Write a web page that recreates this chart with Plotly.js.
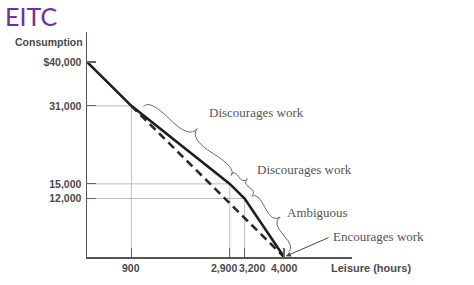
<!DOCTYPE html>
<html>
<head>
<meta charset="utf-8">
<script src="https://cdn.plot.ly/plotly-3.0.1.min.js"></script>
<style>html,body{margin:0;padding:0;background:#fff;}#chart{width:474px;height:285px;}</style>
</head>
<body>
<div id="chart"></div>
<script>
// ---- data ----
const leisureWithEITC = [0, 900, 2900, 3200, 4000];
const consumptionWithEITC = [40000, 31000, 15000, 12000, 0];
const leisureNoEITC = [900, 4000];
const consumptionNoEITC = [31000, 0];
const xTickVals = [900, 2900, 3200, 4000];
const xTickText = ['900', '2,900', '3,200', '4,000'];
const yTickVals = [12000, 15000, 31000, 40000];
const yTickText = ['12,000', '15,000', '31,000', '$40,000'];
const regionLabels = ['Discourages work', 'Discourages work', 'Ambiguous', 'Encourages work'];
const chartTitle = 'EITC';
const yTitle = 'Consumption';
const xTitle = 'Leisure (hours)';

// ---- geometry ----
const W = 474, H = 285;
const M = {l: 87, r: 122, t: 32, b: 28};
const PW = W - M.l - M.r, PH = H - M.t - M.b;
const XMAX = 5380, YMAX = 46150;
const toPx = (x, y) => [M.l + x / XMAX * PW, M.t + PH - y / YMAX * PH];
const toPaper = (p) => [(p[0] - M.l) / PW, (M.t + PH - p[1]) / PH];

const sansBold = {family: 'Liberation Sans, Arial, sans-serif', size: 10.5, color: '#4a4a4a', weight: 'bold'};
const serif = {family: 'Liberation Serif, Times New Roman, serif', size: 13, color: '#555'};

const traces = [];
// reference (guide) lines from the kink points
for (let i = 1; i <= 3; i++) {
  const x = leisureWithEITC[i], y = consumptionWithEITC[i];
  traces.push({x: [0, x], y: [y, y], mode: 'lines', line: {color: '#bdbdbd', width: 1}, hoverinfo: 'skip'});
  traces.push({x: [x, x], y: [0, y], mode: 'lines', line: {color: '#bdbdbd', width: 1}, hoverinfo: 'skip'});
}
traces.push({x: leisureNoEITC, y: consumptionNoEITC, mode: 'lines',
  line: {color: '#2a2a2a', width: 2.6, dash: '8px,5px'}});
traces.push({x: leisureWithEITC, y: consumptionWithEITC, mode: 'lines',
  line: {color: '#1e1e1e', width: 2.6}});

// ---- braces ----
function bracePath(p1, p2, s0, s1, gap, w) {
  const dx = p2[0] - p1[0], dy = p2[1] - p1[1], len = Math.hypot(dx, dy);
  const u = [dx / len, dy / len], n = [u[1], -u[0]];
  const A = [p1[0] + u[0] * s0 + n[0] * gap, p1[1] + u[1] * s0 + n[1] * gap];
  const B = [p2[0] - u[0] * s1 + n[0] * gap, p2[1] - u[1] * s1 + n[1] * gap];
  const L = Math.hypot(B[0] - A[0], B[1] - A[1]);
  const q = 0.6;
  const tip = [(A[0] + B[0]) / 2 + n[0] * w, (A[1] + B[1]) / 2 + n[1] * w];
  const c1 = [A[0] + n[0] * q * w, A[1] + n[1] * q * w];
  const e1 = [A[0] + u[0] * 0.25 * L + n[0] * (1 - q) * w, A[1] + u[1] * 0.25 * L + n[1] * (1 - q) * w];
  const c2 = [B[0] + n[0] * q * w, B[1] + n[1] * q * w];
  const e2 = [B[0] - u[0] * 0.25 * L + n[0] * (1 - q) * w, B[1] - u[1] * 0.25 * L + n[1] * (1 - q) * w];
  const f = (p) => { const a = toPaper(p); return a[0].toFixed(5) + ',' + a[1].toFixed(5); };
  return {path: 'M' + f(A) + ' Q' + f(c1) + ' ' + f(e1) + ' T' + f(tip) +
                ' M' + f(B) + ' Q' + f(c2) + ' ' + f(e2) + ' T' + f(tip), tip: tip};
}
const braceStyle = [
  {s0: 10, s1: 4, gap: 7, w: 16},
  {s0: -6, s1: -3, gap: 8, w: 8},
  {s0: 2, s1: 2, gap: 7, w: 12}
];
const shapes = [];
const tips = [];
for (let i = 0; i < 3; i++) {
  const p1 = toPx(leisureWithEITC[i + 1], consumptionWithEITC[i + 1]);
  const p2 = toPx(leisureWithEITC[i + 2], consumptionWithEITC[i + 2]);
  const s = braceStyle[i];
  const b = bracePath(p1, p2, s.s0, s.s1, s.gap, s.w);
  tips.push(b.tip);
  shapes.push({type: 'path', xref: 'paper', yref: 'paper', path: b.path, line: {color: '#6a6a6a', width: 1}});
}

// ---- annotations ----
const ann = [];
const labelOffsets = [[10, -16], [8, -9], [5, -5]];
for (let i = 0; i < 3; i++) {
  const p = toPaper([tips[i][0] + labelOffsets[i][0], tips[i][1] + labelOffsets[i][1]]);
  ann.push({xref: 'paper', yref: 'paper', x: p[0], y: p[1], xanchor: 'left', yanchor: 'middle',
    text: regionLabels[i], showarrow: false, font: serif});
}
const endPx = toPx(leisureWithEITC[4], consumptionWithEITC[4]);
const encP = toPaper([331, 236]);
ann.push({xref: 'paper', yref: 'paper', x: encP[0], y: encP[1], xanchor: 'left', yanchor: 'middle',
  text: regionLabels[3], showarrow: false, font: serif});
ann.push({xref: 'x', yref: 'y', x: leisureWithEITC[4], y: consumptionWithEITC[4], text: '',
  showarrow: true, arrowhead: 2, arrowsize: 1, arrowwidth: 1, arrowcolor: '#444', standoff: 2,
  ax: 330 - endPx[0], ay: 237 - endPx[1]});
// x tick labels
const tickShift = {2900: -6, 3200: 7};
xTickVals.forEach((v, i) => {
  ann.push({xref: 'x', yref: 'paper', x: v, y: 0, yanchor: 'top', xanchor: 'center', yshift: -3,
    xshift: tickShift[v] || 0, text: xTickText[i], showarrow: false, font: sansBold});
});
// axis titles
const yt = toPaper([85, 42]);
ann.push({xref: 'paper', yref: 'paper', x: yt[0], y: yt[1], xanchor: 'right', yanchor: 'middle',
  text: yTitle, showarrow: false, font: Object.assign({}, sansBold, {size: 10.5})});
const xt = toPaper([329, 268]);
ann.push({xref: 'paper', yref: 'paper', x: xt[0], y: xt[1], xanchor: 'left', yanchor: 'middle',
  text: xTitle, showarrow: false, font: Object.assign({}, sansBold, {size: 11})});
// chart title
const tt = toPaper([4, 0]);
ann.push({xref: 'paper', yref: 'paper', x: tt[0], y: tt[1], xanchor: 'left', yanchor: 'top', borderpad: 0,
  text: chartTitle, showarrow: false, font: {family: 'Lato, Open Sans, sans-serif', size: 25, color: '#7030a0'}});

const axisCommon = {showgrid: false, zeroline: false, showline: true, linecolor: '#555', linewidth: 1.5,
  ticks: 'inside', ticklen: 9, tickcolor: '#666', tickwidth: 1.2, fixedrange: true};

const layout = {
  width: W, height: H, margin: M, showlegend: false,
  paper_bgcolor: '#fff', plot_bgcolor: '#fff',
  xaxis: Object.assign({}, axisCommon, {range: [0, XMAX], tickvals: xTickVals, showticklabels: false}),
  yaxis: Object.assign({}, axisCommon, {range: [0, YMAX], tickvals: yTickVals, ticktext: yTickText,
    tickfont: sansBold, ticklabelstandoff: 2}),
  shapes: shapes, annotations: ann
};
Plotly.newPlot('chart', traces, layout, {displayModeBar: false, staticPlot: true});
</script>
</body>
</html>
